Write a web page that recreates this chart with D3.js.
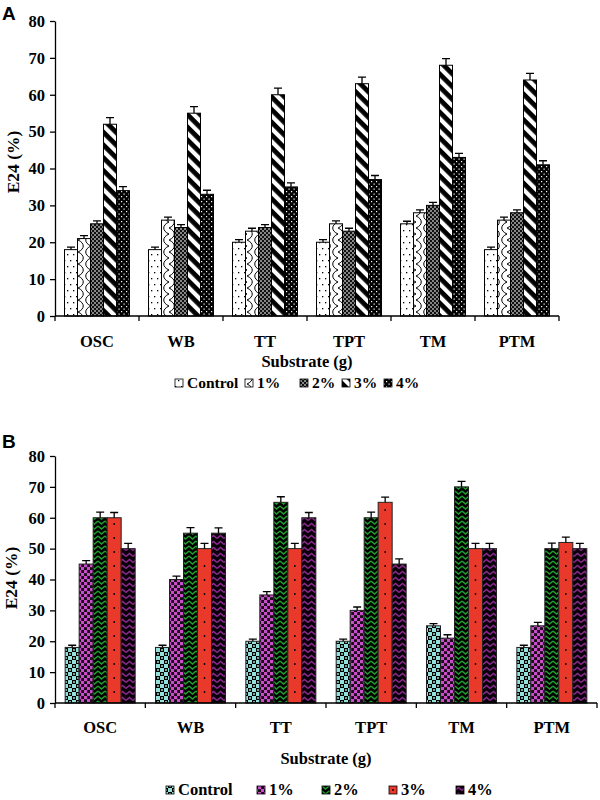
<!DOCTYPE html>
<html>
<head>
<meta charset="utf-8">
<script src="https://cdn.jsdelivr.net/npm/d3@7"></script>
<style>body{margin:0;background:#fff}</style>
</head>
<body>
<script>
// data
var categories = ["OSC", "WB", "TT", "TPT", "TM", "PTM"]
var seriesNames = ["Control", "1%", "2%", "3%", "4%"]
var yTicks = [0, 10, 20, 30, 40, 50, 60, 70, 80]

// panel A
var controlA = [18, 18, 20, 20, 25, 18]
var pct1A = [21, 26, 23, 25, 28, 26]
var pct2A = [25, 24, 24, 23, 30, 28]
var pct3A = [52, 55, 60, 63, 68, 64]
var pct4A = [34, 33, 35, 37, 43, 41]
var errA = [0.7, 0.8, 0.8, 1.8, 1.1]

// panel B
var controlB = [18, 18, 20, 20, 25, 18]
var pct1B = [45, 40, 35, 30, 21, 25]
var pct2B = [60, 55, 65, 60, 70, 50]
var pct3B = [60, 50, 50, 65, 50, 52]
var pct4B = [50, 55, 60, 45, 50, 50]
var errB = [0.7, 1.1, 1.8, 1.7, 1.7]

var serif = "'Liberation Serif', 'Times New Roman', serif"
var sans = "'Liberation Sans', Arial, sans-serif"

var svg = d3.select("body").append("svg")
            .attr("width", 600)
            .attr("height", 800)
var defs = svg.append("defs")

function pat(id, w, h, draw, transform) {
    var p = defs.append("pattern").attr("id", id)
        .attr("patternUnits", "userSpaceOnUse")
        .attr("width", w).attr("height", h)
    if (transform) p.attr("patternTransform", transform)
    draw(p, w, h)
}
function bg(p, w, h, c) { p.append("rect").attr("width", w).attr("height", h).attr("fill", c) }

// black & white patterns (A)
pat("a0", 6, 12, (p, w, h) => {
    bg(p, w, h, "#fff")
    p.append("rect").attr("x", 1).attr("y", 2).attr("width", 1.3).attr("height", 1.3).attr("fill", "#000")
    p.append("rect").attr("x", 4).attr("y", 8).attr("width", 1.3).attr("height", 1.3).attr("fill", "#000")
})
pat("a1", 13, 12, (p, w, h) => {
    bg(p, w, h, "#fff")
    p.append("path").attr("d", "M0,0 C7,3 7,9 0,12 M13,-6 C6,-3 6,3 13,6 M13,6 C6,9 6,15 13,18")
        .attr("fill", "none").attr("stroke", "#000").attr("stroke-width", 1)
})
pat("a2", 4, 4, (p, w, h) => {
    bg(p, w, h, "#111")
    p.append("rect").attr("x", 0.3).attr("y", 0.3).attr("width", 1.4).attr("height", 1.4).attr("fill", "#fff")
    p.append("rect").attr("x", 2.3).attr("y", 2.3).attr("width", 1.4).attr("height", 1.4).attr("fill", "#fff")
})
pat("a3", 9, 9, (p, w, h) => {
    bg(p, w, h, "#fff")
    p.append("rect").attr("width", 9).attr("height", 4.8).attr("fill", "#000")
}, "rotate(45)")
pat("a4", 5, 5, (p, w, h) => {
    bg(p, w, h, "#000")
    p.append("rect").attr("x", 1).attr("y", 1).attr("width", 1.2).attr("height", 1.2).attr("fill", "#fff")
    p.append("rect").attr("x", 3.5).attr("y", 3.5).attr("width", 1.2).attr("height", 1.2).attr("fill", "#fff")
})

// colour patterns (B)
pat("b0", 8, 8, (p, w, h) => {
    bg(p, w, h, "#94e0da")
    p.append("rect").attr("width", 4).attr("height", 4).attr("fill", "#000")
    p.append("rect").attr("x", 4).attr("y", 4).attr("width", 4).attr("height", 4).attr("fill", "#000")
    p.append("circle").attr("cx", 2).attr("cy", 2).attr("r", 1).attr("fill", "#94e0da")
    p.append("circle").attr("cx", 6).attr("cy", 6).attr("r", 1).attr("fill", "#94e0da")
})
pat("b1", 6, 6, (p, w, h) => {
    bg(p, w, h, "#1a0a1a")
    p.append("rect").attr("width", 3.2).attr("height", 3.2).attr("fill", "#c94dc9")
    p.append("rect").attr("x", 3).attr("y", 3).attr("width", 3.2).attr("height", 3.2).attr("fill", "#c94dc9")
})
pat("b2", 7, 5, (p, w, h) => {
    bg(p, w, h, "#000")
    p.append("path").attr("d", "M0,1 L3.5,4 L7,1").attr("fill", "none")
        .attr("stroke", "#1f9e2e").attr("stroke-width", 1.4)
})
pat("b3", 4, 4, (p, w, h) => { bg(p, w, h, "#e8392b") })
pat("b4", 7, 6, (p, w, h) => {
    bg(p, w, h, "#0a000a")
    p.append("path").attr("d", "M0,4.5 L3.5,1.5 L7,4.5").attr("fill", "none")
        .attr("stroke", "#8b2a8e").attr("stroke-width", 1.5)
})

var drawPanel = (p) => {
    var g = svg.append("g")
    var x = d3.scaleBand().domain(categories).range([p.x0, p.x1])
    var pad = (x.bandwidth() - seriesNames.length * p.barW) / 2
    var xs = d3.scaleBand().domain(seriesNames).range([pad, pad + seriesNames.length * p.barW])
    var y = d3.scaleLinear().domain([0, 80]).range([p.yBase, p.yTop])

    p.series.forEach((vals, si) => {
        var rows = vals.map((v, ci) => ({cat: categories[ci], v: v, e: p.err[si]}))
        var cx = d => x(d.cat) + xs(seriesNames[si]) + xs.bandwidth() / 2
        var sg = g.append("g")
        sg.selectAll("rect").data(rows).join("rect")
            .attr("x", d => x(d.cat) + xs(seriesNames[si]))
            .attr("y", d => y(d.v))
            .attr("width", xs.bandwidth())
            .attr("height", d => y(0) - y(d.v))
            .attr("fill", p.fills[si])
            .attr("stroke", p.stroke)
            .attr("stroke-width", 1)
        if (p.dotSeries === si) {
            rows.forEach(d => {
                sg.selectAll(null).data(d3.range(y(0) - 11, y(d.v) + 4, -14)).join("circle")
                    .attr("cx", cx(d)).attr("cy", v => v).attr("r", 0.9).attr("fill", "#000")
            })
        }
        sg.selectAll("path").data(rows).join("path")
            .attr("d", d => `M${cx(d)},${y(d.v)}V${y(d.v + d.e)}M${cx(d) - 4},${y(d.v + d.e)}H${cx(d) + 4}`)
            .attr("fill", "none").attr("stroke", "#000").attr("stroke-width", 1.3)
    })

    // y axis
    var ya = g.append("g").attr("transform", `translate(${p.x0},0)`)
        .call(d3.axisLeft(y).tickValues(yTicks).tickSize(5).tickPadding(5).tickSizeOuter(0))
    ya.selectAll("line,path").attr("stroke", "#000").attr("stroke-width", 1.3)
    ya.selectAll("text").attr("font-family", serif).attr("font-weight", "bold")
        .attr("font-size", 16.5).attr("fill", "#000")

    // x axis with ticks on group boundaries
    var bounds = categories.map(c => x(c)).concat([p.x1])
    g.append("line").attr("x1", p.x0).attr("x2", p.x1).attr("y1", y(0)).attr("y2", y(0))
        .attr("stroke", "#000").attr("stroke-width", 1.3)
    g.selectAll(".xt").data(bounds).join("line").attr("class", "xt")
        .attr("x1", d => d).attr("x2", d => d).attr("y1", y(0)).attr("y2", y(0) + 5)
        .attr("stroke", "#000").attr("stroke-width", 1.3)
    var xa = g.append("g").attr("transform", `translate(0,${p.yBase})`)
        .call(d3.axisBottom(x).tickSize(0).tickPadding(p.labelPad))
    xa.select(".domain").remove()
    xa.selectAll("text").attr("font-family", serif).attr("font-weight", "bold")
        .attr("font-size", 16.5).attr("fill", "#000")

    // titles
    g.append("text").attr("x", (p.x0 + p.x1) / 2).attr("y", p.titleY)
        .attr("text-anchor", "middle").attr("font-family", serif).attr("font-weight", "bold")
        .attr("font-size", 16.5).text("Substrate (g)")
    g.append("text").attr("transform", `translate(${p.yTitleX},${p.yTitleY}) rotate(-90)`)
        .attr("text-anchor", "middle").attr("font-family", serif).attr("font-weight", "bold")
        .attr("font-size", 17.5).text("E24 (%)")
    g.append("text").attr("x", 2).attr("y", p.letterY)
        .attr("font-family", sans).attr("font-weight", "bold").attr("font-size", 19).text(p.letter)

    // legend
    seriesNames.forEach((s, i) => {
        g.append("rect").attr("x", p.legendX[i]).attr("y", p.legendY - 9)
            .attr("width", 8).attr("height", 8).attr("fill", p.fills[i])
            .attr("stroke", "#000").attr("stroke-width", 0.8)
        if (p.dotSeries === i) {
            g.append("circle").attr("cx", p.legendX[i] + 4).attr("cy", p.legendY - 5).attr("r", 0.9).attr("fill", "#000")
        }
        g.append("text").attr("x", p.legendX[i] + 12).attr("y", p.legendY)
            .attr("font-family", serif).attr("font-weight", "bold")
            .attr("font-size", p.legendFont).text(s)
    })
}

drawPanel({
    letter: "A", letterY: 20,
    series: [controlA, pct1A, pct2A, pct3A, pct4A], err: errA,
    fills: ["url(#a0)", "url(#a1)", "url(#a2)", "url(#a3)", "url(#a4)"],
    stroke: "#000",
    x0: 55, x1: 559, yTop: 21, yBase: 316, barW: 13,
    labelPad: 19.6, titleY: 367, legendY: 388, legendFont: 15.5,
    legendX: [175, 245, 300, 342, 384],
    yTitleX: 19, yTitleY: 162
})

drawPanel({
    letter: "B", letterY: 448,
    series: [controlB, pct1B, pct2B, pct3B, pct4B], err: errB,
    fills: ["url(#b0)", "url(#b1)", "url(#b2)", "url(#b3)", "url(#b4)"],
    stroke: "#222", dotSeries: 3,
    x0: 55, x1: 597, yTop: 456, yBase: 703, barW: 14,
    labelPad: 18.6, titleY: 764, legendY: 795, legendFont: 16.5,
    legendX: [166, 257, 322, 389, 456],
    yTitleX: 17, yTitleY: 578
})
</script>
</body>
</html>
